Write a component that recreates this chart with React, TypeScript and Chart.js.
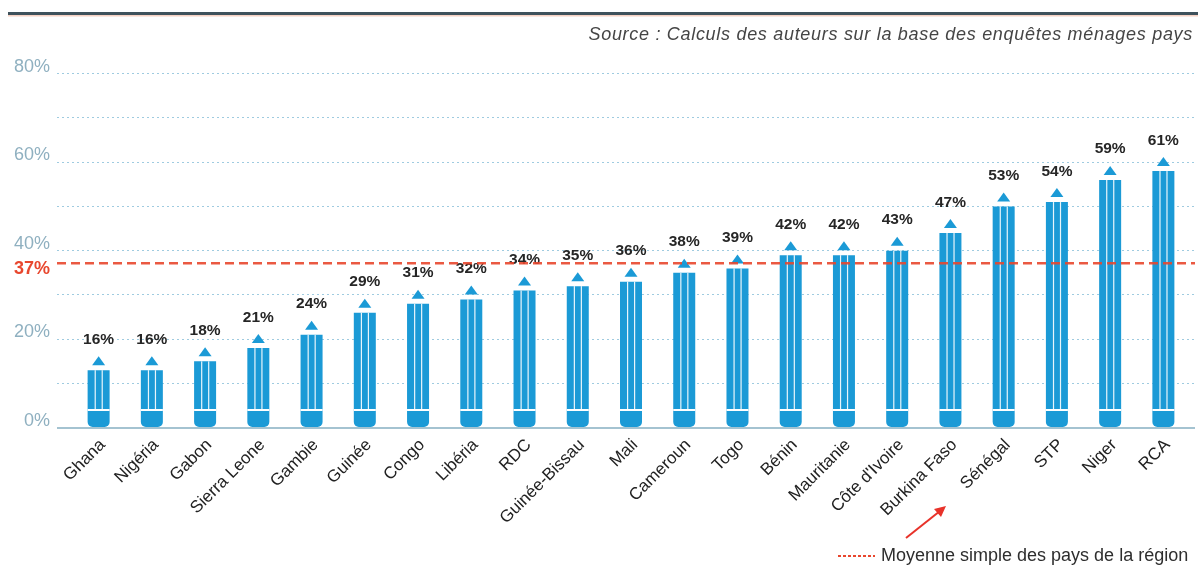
import React, { useEffect, useRef } from 'react';
import { Chart, registerables } from 'chart.js';
Chart.register(...registerables);

const countries = ['Ghana', 'Nigéria', 'Gabon', 'Sierra Leone', 'Gambie', 'Guinée', 'Congo', 'Libéria', 'RDC', 'Guinée-Bissau', 'Mali', 'Cameroun', 'Togo', 'Bénin', 'Mauritanie', "Côte d'Ivoire", 'Burkina Faso', 'Sénégal', 'STP', 'Niger', 'RCA'];
const values = [16, 16, 18, 21, 24, 29, 31, 32, 34, 35, 36, 38, 39, 42, 42, 43, 47, 53, 54, 59, 61];
const meanValue = 37;
const yMax = 80;
const gridStep = 10;
const labelStep = 20;
const sourceText = 'Source : Calculs des auteurs sur la base des enquêtes ménages pays';
const legendText = 'Moyenne simple des pays de la région';

const FONT = '"Liberation Sans", Arial, sans-serif';
const BLUE = '#1b9ad6';
const RED = '#e8472e';

const pencilPlugin = {
  id: 'pencil',
  beforeDraw(chart: any) {
    const ctx = chart.ctx;
    ctx.save();
    ctx.fillStyle = '#ffffff';
    ctx.fillRect(0, 0, chart.width, chart.height);
    ctx.fillStyle = '#3f525c';
    ctx.fillRect(8, 12, chart.width - 8, 3);
    ctx.fillStyle = '#f6d2c4';
    ctx.fillRect(8, 15, chart.width - 8, 1.5);
    ctx.font = `italic 18px ${FONT}`;
    (ctx as any).letterSpacing = '0.7px';
    ctx.fillStyle = '#454545';
    ctx.textAlign = 'right';
    ctx.textBaseline = 'middle';
    ctx.fillText(sourceText, 1193, 35);
    (ctx as any).letterSpacing = '0px';
    ctx.restore();
  },
  beforeDatasetsDraw(chart: any) {
    const ctx = chart.ctx;
    const y = chart.scales.y;
    ctx.save();
    ctx.strokeStyle = '#9fcbe0';
    ctx.lineWidth = 1;
    ctx.setLineDash([2, 3]);
    for (let v = gridStep; v <= yMax; v += gridStep) {
      const py = Math.round(y.getPixelForValue(v)) + 0.5;
      ctx.beginPath();
      ctx.moveTo(57, py);
      ctx.lineTo(1195, py);
      ctx.stroke();
    }
    ctx.setLineDash([]);
    ctx.strokeStyle = '#86afc2';
    ctx.lineWidth = 1.5;
    const p0 = y.getPixelForValue(0) + 1;
    ctx.beginPath();
    ctx.moveTo(57, p0);
    ctx.lineTo(1195, p0);
    ctx.stroke();
    ctx.restore();
  },
  afterDatasetsDraw(chart: any) {
    const ctx = chart.ctx;
    const yS = chart.scales.y;
    const meta = chart.getDatasetMeta(0);
    ctx.save();
    meta.data.forEach((el: any, i: number) => {
      const { x, y, base, width } = el.getProps(['x', 'y', 'base', 'width'], true);
      const left = x - width / 2;
      const right = x + width / 2;
      const tipTop = y;
      const tipBase = y + 9;
      const bodyTop = y + 14;
      const r = 5;
      ctx.fillStyle = BLUE;
      ctx.beginPath();
      ctx.moveTo(left, bodyTop);
      ctx.lineTo(right, bodyTop);
      ctx.lineTo(right, base - r);
      ctx.arcTo(right, base, right - r, base, r);
      ctx.lineTo(left + r, base);
      ctx.arcTo(left, base, left, base - r, r);
      ctx.closePath();
      ctx.fill();
      ctx.beginPath();
      ctx.moveTo(x - 6.5, tipBase);
      ctx.lineTo(x + 6.5, tipBase);
      ctx.lineTo(x, tipTop);
      ctx.closePath();
      ctx.fill();
      const eraserTop = base - 18;
      ctx.fillStyle = 'rgba(255,255,255,0.9)';
      ctx.fillRect(x - 4, bodyTop, 1.2, eraserTop - bodyTop);
      ctx.fillRect(x + 3, bodyTop, 1.2, eraserTop - bodyTop);
      ctx.fillStyle = '#ffffff';
      ctx.fillRect(left, eraserTop, width, 2);
      ctx.fillStyle = '#262626';
      ctx.font = `bold 15.5px ${FONT}`;
      ctx.textAlign = 'center';
      ctx.textBaseline = 'bottom';
      ctx.fillText(`${values[i]}%`, x, tipTop - 9);
    });
    const my = yS.getPixelForValue(meanValue);
    ctx.strokeStyle = RED;
    ctx.globalAlpha = 0.9;
    ctx.lineWidth = 2.5;
    ctx.setLineDash([9, 5]);
    ctx.beginPath();
    ctx.moveTo(57, my);
    ctx.lineTo(1195, my);
    ctx.stroke();
    ctx.globalAlpha = 1;
    ctx.setLineDash([]);
    ctx.fillStyle = RED;
    ctx.font = `bold 18px ${FONT}`;
    ctx.textAlign = 'right';
    ctx.textBaseline = 'middle';
    ctx.fillText(`${meanValue}%`, 50, my + 6);
    ctx.strokeStyle = RED;
    ctx.lineWidth = 2;
    ctx.setLineDash([3, 2]);
    ctx.beginPath();
    ctx.moveTo(838, 556);
    ctx.lineTo(875, 556);
    ctx.stroke();
    ctx.setLineDash([]);
    ctx.fillStyle = '#2e2e2e';
    ctx.font = `18px ${FONT}`;
    ctx.textAlign = 'left';
    ctx.fillText(legendText, 881, 556);
    ctx.strokeStyle = '#e8322a';
    ctx.fillStyle = '#e8322a';
    ctx.lineWidth = 2;
    ctx.beginPath();
    ctx.moveTo(906, 538);
    ctx.lineTo(940, 511);
    ctx.stroke();
    ctx.beginPath();
    ctx.moveTo(946, 506);
    ctx.lineTo(934, 509);
    ctx.lineTo(941, 517);
    ctx.closePath();
    ctx.fill();
    ctx.restore();
  },
};

export default function App() {
  const ref = useRef<HTMLCanvasElement>(null);
  useEffect(() => {
    document.body.style.margin = '0';
    const chart = new Chart(ref.current!, {
      type: 'bar',
      data: {
        labels: countries,
        datasets: [{ data: values, backgroundColor: 'rgba(0,0,0,0)', barThickness: 22 }],
      },
      options: {
        animation: false,
        responsive: false,
        layout: { padding: { top: 73, right: 8, left: 0, bottom: 0 } },
        plugins: { legend: { display: false }, tooltip: { enabled: false } },
        scales: {
          x: {
            grid: { display: false, drawTicks: false },
            border: { display: false },
            ticks: {
              autoSkip: false,
              maxRotation: 45,
              minRotation: 45,
              color: '#222222',
              padding: 8,
              labelOffset: 4,
              font: { size: 17, family: FONT },
            },
            afterFit: (s: any) => { s.height = 141; },
          },
          y: {
            min: 0,
            max: yMax,
            grid: { display: false, drawTicks: false },
            border: { display: false },
            ticks: {
              stepSize: gridStep,
              autoSkip: false,
              padding: 22,
              labelOffset: -6,
              color: '#8fb0c0',
              font: { size: 18, family: FONT },
              callback: (v: any) => (Number(v) % labelStep === 0 ? `${v}%` : ''),
            },
            afterFit: (s: any) => { s.width = 72; },
          },
        },
      },
      plugins: [pencilPlugin],
    });
    return () => chart.destroy();
  }, []);
  return (
    <div style={{ width: 1198, height: 568 }}>
      <canvas ref={ref} width={1198} height={568} />
    </div>
  );
}
